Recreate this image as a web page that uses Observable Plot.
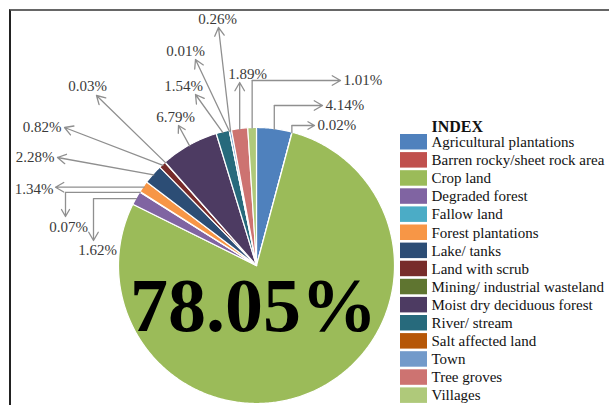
<!DOCTYPE html>
<html><head><meta charset="utf-8">
<script src="https://cdn.jsdelivr.net/npm/d3@7"></script>
<script src="https://cdn.jsdelivr.net/npm/@observablehq/plot@0.6"></script>
<style>
html,body{margin:0;padding:0;background:#fff;}
#wrap{position:relative;width:609px;height:405px;overflow:hidden;}
#frame{position:absolute;left:9px;top:9px;width:620px;height:420px;border-top:2px solid #666;border-left:2px solid #222;box-sizing:border-box;}
#chart{position:absolute;left:0;top:0;}
#chart svg, #chart svg text, #chart svg g { font-family: "Liberation Serif", Tinos, "Times New Roman", "DejaVu Serif", serif !important; }
</style></head><body>
<div id="wrap"><div id="frame"></div><div id="chart"></div></div>
<script>
// ---- data ----
const categories = [
  "Agricultural plantations","Barren rocky/sheet rock area","Crop land","Degraded forest",
  "Fallow land","Forest plantations","Lake/ tanks","Land with scrub",
  "Mining/ industrial wasteland","Moist dry deciduous forest","River/ stream",
  "Salt affected land","Town","Tree groves","Villages"
];
const shares = [4.14, 0.02, 78.05, 1.62, 0.07, 1.34, 2.28, 0.82, 0.03, 6.79, 1.54, 0.01, 0.26, 1.89, 1.01];
const legendTitle = "INDEX";
const mainCategory = "Crop land";

// ---- styles ----
const palette = ["#4F81BD","#C0504D","#9BBB59","#8064A2","#4BACC6","#F79646","#2C4D75","#772C2A",
                 "#5F7530","#4D3B62","#276A7C","#B65708","#729ACA","#CD7371","#AFC97A"];
const FONT = "'Liberation Serif', Tinos, 'Times New Roman', 'DejaVu Serif', serif";

// ---- layout ----
const W = 609, H = 405, CX = 256, CY = 265, R = 138;
const LEG = {x: 400, w: 27, tx: 431, top: 134, step: 18.1, h: 15.5, titleY: 126};
const labelLayout = {
  "Agricultural plantations":     {path: "up-right",  tip: [322, 105], text: [325, 105], anchor: "start"},
  "Barren rocky/sheet rock area": {path: "up-right",  tip: [314, 125], text: [317, 125], anchor: "start"},
  "Degraded forest":              {path: "left-down", tip: [93, 240],  text: [97, 250],  anchor: "middle"},
  "Fallow land":                  {path: "left-down", tip: [65, 216],  text: [68, 227],  anchor: "middle"},
  "Forest plantations":           {path: "left",      tip: [55, 189],  text: [53, 189],  anchor: "end"},
  "Lake/ tanks":                  {path: "straight",  tip: [57, 157],  text: [54, 157],  anchor: "end"},
  "Land with scrub":              {path: "straight",  tip: [64, 127],  text: [61, 127],  anchor: "end"},
  "Mining/ industrial wasteland": {path: "straight",  tip: [96, 95],   text: [87, 86],   anchor: "middle"},
  "Moist dry deciduous forest":   {path: "straight",  tip: [178, 125], text: [175, 117], anchor: "middle"},
  "River/ stream":                {path: "straight",  tip: [195, 94],  text: [183, 86],  anchor: "middle"},
  "Salt affected land":           {path: "straight",  tip: [195, 59],  text: [185, 51],  anchor: "middle"},
  "Town":                         {path: "straight",  tip: [218, 27],  text: [217, 19],  anchor: "middle"},
  "Tree groves":                  {path: "up",        tip: [0, 82],    text: [247, 74],  anchor: "middle"},
  "Villages":                     {path: "up-right",  tip: [340, 80],  text: [343, 80],  anchor: "start"}
};

// ---- derived ----
const rows = categories.map((c, i) => ({cat: c, v: shares[i], i}));
const arcs = d3.pie().value(d => d.v).sort(null)(rows);
const polar = (a, r) => [CX + r * Math.sin(a), CY - r * Math.cos(a)];

const slicePts = [];
for (const a of arcs) {
  const [cx, cy] = polar(0, 0);
  slicePts.push({cat: a.data.cat, x: cx, y: cy});
  const n = Math.max(2, Math.ceil((a.endAngle - a.startAngle) / 0.01));
  for (let k = 0; k <= n; k++) {
    const t = a.startAngle + (a.endAngle - a.startAngle) * k / n;
    const [x, y] = polar(t, R);
    slicePts.push({cat: a.data.cat, x, y});
  }
}

const segs = [], heads = [], labels = [];
for (const a of arcs) {
  const L = labelLayout[a.data.cat];
  if (!L) continue;
  const mid = (a.startAngle + a.endAngle) / 2;
  const [ax, ay] = polar(mid, R - 1);
  let pts;
  if (L.path === "up-right") pts = [[ax, ay], [ax, L.tip[1]], L.tip];
  else if (L.path === "left-down") pts = [[ax, ay], [L.tip[0], ay], L.tip];
  else if (L.path === "left") pts = [[ax, ay], [L.tip[0], ay]];
  else if (L.path === "up") pts = [[ax, ay], [ax, L.tip[1]]];
  else pts = [[ax, ay], L.tip];
  for (let k = 0; k < pts.length - 1; k++) {
    const s = {x1: pts[k][0], y1: pts[k][1], x2: pts[k + 1][0], y2: pts[k + 1][1]};
    (k === pts.length - 2 ? heads : segs).push(s);
  }
  labels.push({x: L.text[0], y: L.text[1], anchor: L.anchor, t: a.data.v.toFixed(2) + "%"});
}

const main = rows.find(d => d.cat === mainCategory);
const legendRows = rows.map((d, i) => ({cat: d.cat, y1: LEG.top + i * LEG.step, y2: LEG.top + i * LEG.step + LEG.h}));

const leftLabels = labels.filter(d => d.anchor === "end");
const midLabels = labels.filter(d => d.anchor === "middle");
const startLabels = labels.filter(d => d.anchor === "start");

const plot = Plot.plot({
  width: W, height: H,
  margin: 0,
  x: {domain: [0, W], range: [0, W], axis: null},
  y: {domain: [0, H], range: [0, H], axis: null},
  color: {domain: categories, range: palette},
  style: {background: "transparent", overflow: "hidden", fontFamily: FONT},
  marks: [
    Plot.line(slicePts, {x: "x", y: "y", z: "cat", fill: "cat", stroke: "white", strokeWidth: 1.2, curve: "linear-closed", strokeLinejoin: "round"}),
    Plot.link(segs, {x1: "x1", y1: "y1", x2: "x2", y2: "y2", stroke: "#8f8f8f", strokeWidth: 1.3}),
    Plot.arrow(heads, {x1: "x1", y1: "y1", x2: "x2", y2: "y2", stroke: "#8f8f8f", strokeWidth: 1.3, headLength: 11, headAngle: 60}),
    Plot.text(leftLabels, {x: "x", y: "y", text: "t", textAnchor: "end", fontSize: 15, fontFamily: FONT, fill: "#3a3a3a"}),
    Plot.text(midLabels, {x: "x", y: "y", text: "t", textAnchor: "middle", fontSize: 15, fontFamily: FONT, fill: "#3a3a3a"}),
    Plot.text(startLabels, {x: "x", y: "y", text: "t", textAnchor: "start", fontSize: 15, fontFamily: FONT, fill: "#3a3a3a"}),
    Plot.text([main], {x: () => CX - 3, y: () => CY + 41, text: d => d.v.toFixed(2) + "%", fontSize: 76, fontWeight: "bold", fontFamily: FONT, fill: "#000", textAnchor: "middle"}),
    Plot.text([legendTitle], {x: () => LEG.tx, y: () => LEG.titleY, text: d => d, fontSize: 16, fontWeight: "bold", fontFamily: FONT, fill: "#111", textAnchor: "start"}),
    Plot.rect(legendRows, {x1: () => LEG.x, x2: () => LEG.x + LEG.w, y1: "y1", y2: "y2", fill: "cat"}),
    Plot.text(legendRows, {x: () => LEG.tx, y: d => (d.y1 + d.y2) / 2, text: "cat", fontSize: 15, fontFamily: FONT, fill: "#111", textAnchor: "start"})
  ]
});
document.getElementById("chart").appendChild(plot);
</script>
</body></html>
